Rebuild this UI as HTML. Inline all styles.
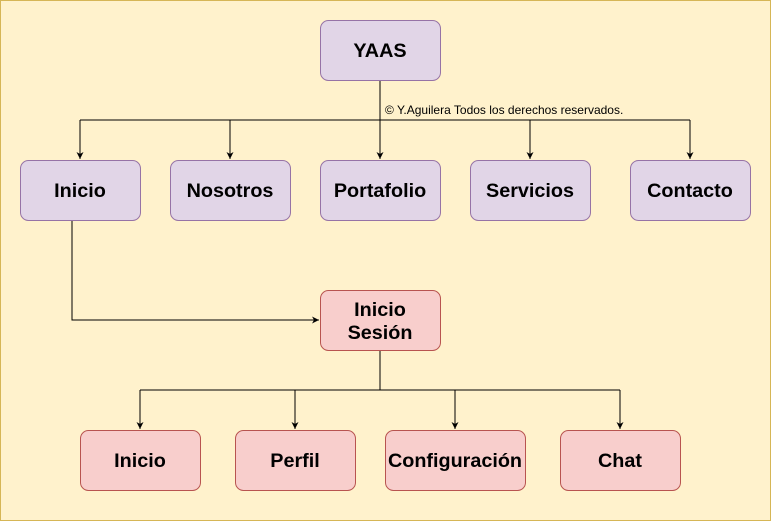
<!DOCTYPE html>
<html><head><meta charset="utf-8"><style>
html,body{margin:0;padding:0;background:#fff;}
</style></head><body>
<svg width="771" height="521" xmlns="http://www.w3.org/2000/svg" font-family="Liberation Sans, Arial, sans-serif">
<defs><marker id="a" markerWidth="8" markerHeight="8" refX="7" refY="4" orient="auto" markerUnits="userSpaceOnUse"><path d="M0,0.5 L7,4 L0,7.5 L2,4 Z" fill="#000"/></marker></defs>
<rect x="0.5" y="0.5" width="770" height="520" fill="#fff2cc" stroke="#d6b656"/>
<g stroke="#000" fill="none" stroke-width="1">
<path d="M380 80 V120"/>
<path d="M80 120 H690"/>
<path d="M80 120 V159" marker-end="url(#a)"/>
<path d="M230 120 V159" marker-end="url(#a)"/>
<path d="M380 120 V159" marker-end="url(#a)"/>
<path d="M530 120 V159" marker-end="url(#a)"/>
<path d="M690 120 V159" marker-end="url(#a)"/>
<path d="M72 220 V320 H319" marker-end="url(#a)"/>
<path d="M380 350 V390"/>
<path d="M140 390 H620"/>
<path d="M140 390 V429" marker-end="url(#a)"/>
<path d="M295 390 V429" marker-end="url(#a)"/>
<path d="M455 390 V429" marker-end="url(#a)"/>
<path d="M620 390 V429" marker-end="url(#a)"/>
</g>
<text x="385" y="114" font-size="12">© Y.Aguilera Todos los derechos reservados.</text>
<g fill="#e1d5e7" stroke="#9673a6">
<rect x="320.5" y="20.5" width="120" height="60" rx="8"/>
<rect x="20.5" y="160.5" width="120" height="60" rx="8"/>
<rect x="170.5" y="160.5" width="120" height="60" rx="8"/>
<rect x="320.5" y="160.5" width="120" height="60" rx="8"/>
<rect x="470.5" y="160.5" width="120" height="60" rx="8"/>
<rect x="630.5" y="160.5" width="120" height="60" rx="8"/>
</g>
<g fill="#f8cecc" stroke="#b85450">
<rect x="320.5" y="290.5" width="120" height="60" rx="8"/>
<rect x="80.5" y="430.5" width="120" height="60" rx="8"/>
<rect x="235.5" y="430.5" width="120" height="60" rx="8"/>
<rect x="385.5" y="430.5" width="140" height="60" rx="8"/>
<rect x="560.5" y="430.5" width="120" height="60" rx="8"/>
</g>
<g font-size="19.8" font-weight="bold" text-anchor="middle" fill="#000">
<text x="380" y="57">YAAS</text>
<text x="80" y="197">Inicio</text>
<text x="230" y="197">Nosotros</text>
<text x="380" y="197">Portafolio</text>
<text x="530" y="197">Servicios</text>
<text x="690" y="197">Contacto</text>
<text x="380" y="316">Inicio</text>
<text x="380" y="339">Sesión</text>
<text x="140" y="467">Inicio</text>
<text x="295" y="467">Perfil</text>
<text x="455" y="467">Configuración</text>
<text x="620" y="467">Chat</text>
</g>
</svg>
</body></html>
